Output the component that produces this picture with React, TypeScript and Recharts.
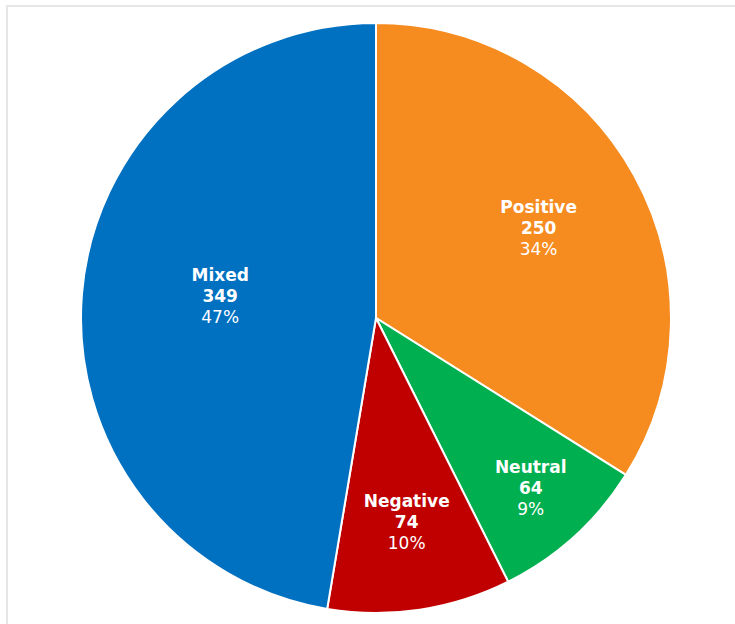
import { PieChart, Pie, Cell } from 'recharts';

const categories = ['Positive', 'Neutral', 'Negative', 'Mixed'];
const counts = [250, 64, 74, 349];
const colors = ['#F68B1F', '#00AF50', '#C00000', '#0070C0'];

// how far out (fraction of the radius) each label sits
const labelRadius: Record<string, number> = {
  Positive: 0.63,
  Neutral: 0.78,
  Negative: 0.7,
  Mixed: 0.53,
};

const data = categories.map((name, i) => ({ name, value: counts[i] }));

const RAD = Math.PI / 180;

function SliceLabel(props: any) {
  const { cx, cy, midAngle, outerRadius, percent, name, value } = props;
  const r = outerRadius * (labelRadius[name] ?? 0.6);
  const x = cx + r * Math.cos(-midAngle * RAD);
  const y = cy + r * Math.sin(-midAngle * RAD) - (name === 'Mixed' ? 9 : 0);
  return (
    <text
      x={x}
      y={y}
      fill="#fff"
      textAnchor="middle"
      fontFamily="'DejaVu Sans', Verdana, sans-serif"
      fontSize={17}
    >
      <tspan x={x} dy={-15} fontWeight="bold">{name}</tspan>
      <tspan x={x} dy={21} fontWeight="bold">{value}</tspan>
      <tspan x={x} dy={21}>{`${Math.round(percent * 100)}%`}</tspan>
    </text>
  );
}

export default function App() {
  return (
    <div
      style={{
        position: 'absolute',
        left: 6,
        top: 5,
        width: 727,
        height: 617,
        borderTop: '2px solid #e6e6e6',
        borderLeft: '2px solid #e6e6e6',
        background: '#fff',
        overflow: 'hidden',
      }}
    >
      <PieChart width={727} height={617} margin={{ top: 0, right: 0, bottom: 0, left: 0 }}>
        <Pie
          data={data}
          dataKey="value"
          nameKey="name"
          cx={368}
          cy={311}
          outerRadius={295}
          startAngle={90}
          endAngle={-270}
          stroke="#fff"
          strokeWidth={2}
          labelLine={false}
          label={SliceLabel}
          isAnimationActive={false}
        >
          {data.map((d, i) => (
            <Cell key={d.name} fill={colors[i]} />
          ))}
        </Pie>
      </PieChart>
    </div>
  );
}
